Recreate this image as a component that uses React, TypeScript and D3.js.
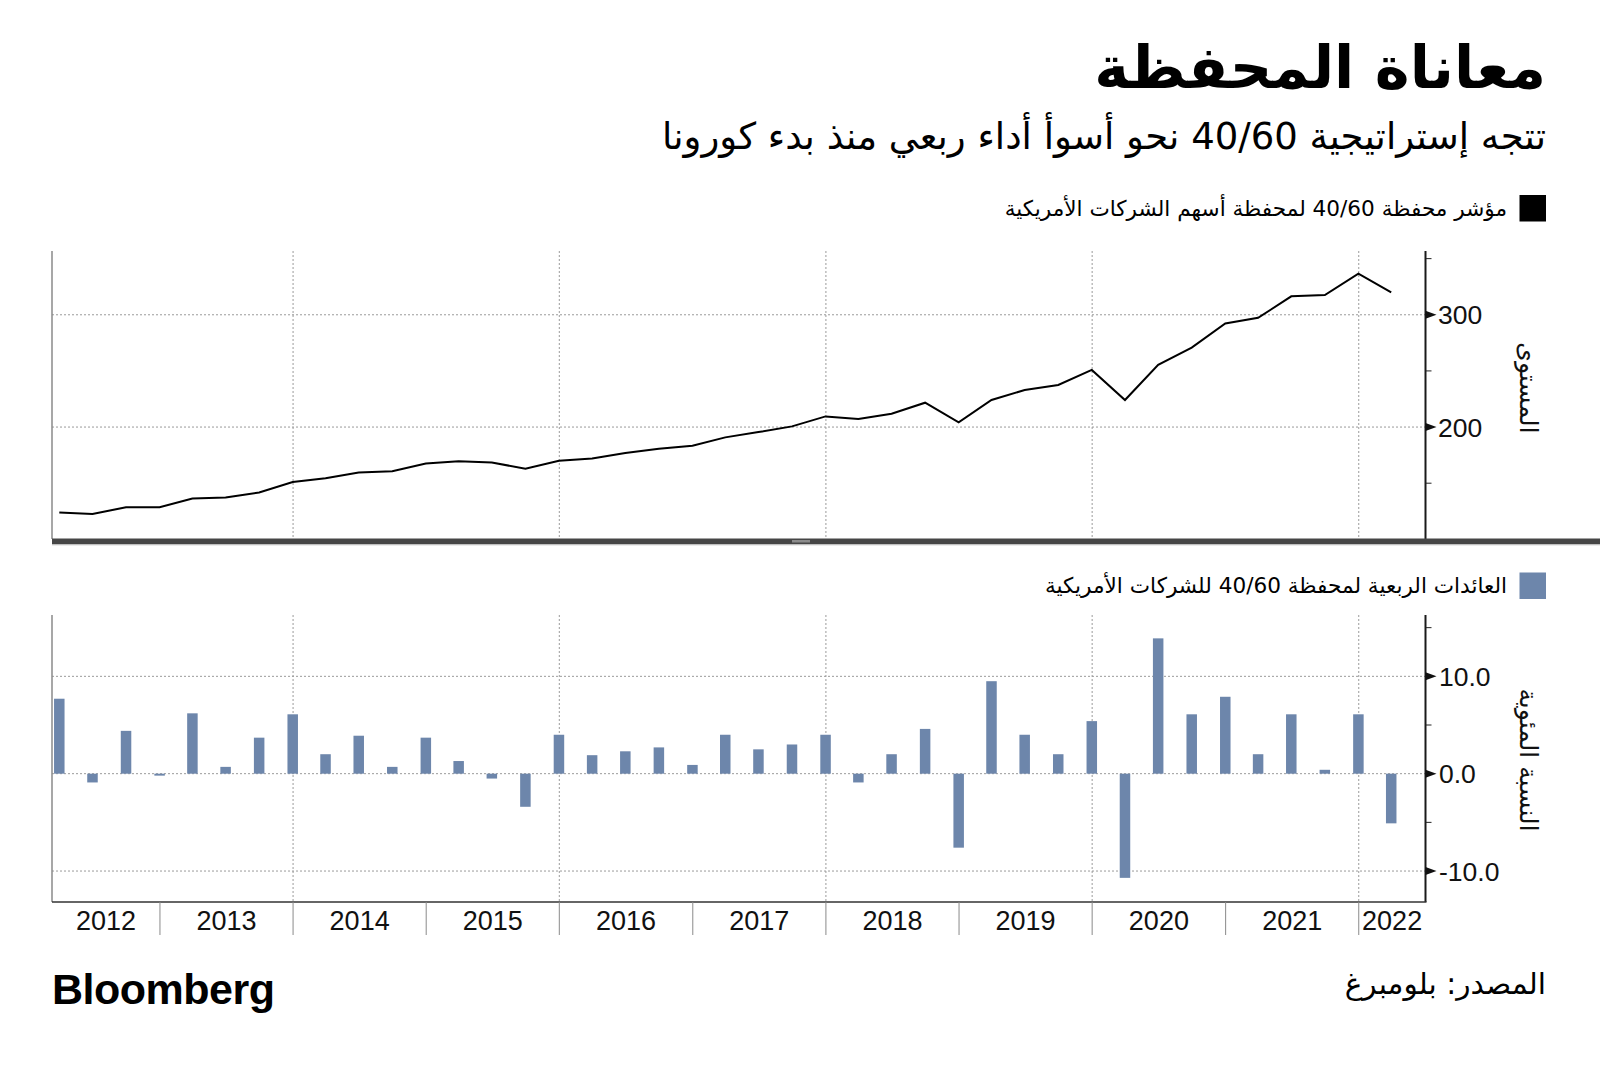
import React from "react";
import * as d3 from "d3";

const title = "معاناة المحفظة";
const subtitle = "تتجه إستراتيجية 40/60 نحو أسوأ أداء ربعي منذ بدء كورونا";
const legendLine = "مؤشر محفظة 40/60 لمحفظة أسهم الشركات الأمريكية";
const legendBars = "العائدات الربعية لمحفظة 40/60 للشركات الأمريكية";
const yTitleTop = "المستوى";
const yTitleBottom = "النسبة المئوية";
const sourceText = "المصدر: بلومبرغ";

const quarterEnds = [
  "2012-03-31", "2012-06-30", "2012-09-30", "2012-12-31",
  "2013-03-31", "2013-06-30", "2013-09-30", "2013-12-31",
  "2014-03-31", "2014-06-30", "2014-09-30", "2014-12-31",
  "2015-03-31", "2015-06-30", "2015-09-30", "2015-12-31",
  "2016-03-31", "2016-06-30", "2016-09-30", "2016-12-31",
  "2017-03-31", "2017-06-30", "2017-09-30", "2017-12-31",
  "2018-03-31", "2018-06-30", "2018-09-30", "2018-12-31",
  "2019-03-31", "2019-06-30", "2019-09-30", "2019-12-31",
  "2020-03-31", "2020-06-30", "2020-09-30", "2020-12-31",
  "2021-03-31", "2021-06-30", "2021-09-30", "2021-12-31",
  "2022-03-31",
];

const indexLevel = [
  123.8, 122.6, 128.6, 128.6, 136.3, 137.2, 141.7, 151.1,
  154.5, 159.5, 160.7, 167.6, 169.6, 168.5, 162.8, 170.0,
  172.0, 176.8, 180.7, 183.3, 190.8, 195.5, 200.6, 209.5,
  207.1, 211.9, 221.7, 204.2, 224.1, 233.0, 237.5, 250.9,
  224.1, 255.4, 270.8, 292.3, 297.3, 316.4, 317.6, 336.6,
  319.9,
];

const quarterlyReturn = [
  7.7, -0.9, 4.4, -0.2, 6.2, 0.7, 3.7, 6.1,
  2.0, 3.9, 0.7, 3.7, 1.3, -0.5, -3.4, 4.0,
  1.9, 2.3, 2.7, 0.9, 4.0, 2.5, 3.0, 4.0,
  -0.9, 2.0, 4.6, -7.6, 9.5, 4.0, 2.0, 5.4,
  -10.7, 13.9, 6.1, 7.9, 2.0, 6.1, 0.4, 6.1,
  -5.1,
];

const yearLabels = ["2012", "2013", "2014", "2015", "2016", "2017", "2018", "2019", "2020", "2021", "2022"];
const topMajorTicks = [200, 300];
const topMinorTicks = [150, 250, 350];
const bottomMajorTicks = [-10, 0, 10];
const bottomMinorTicks = [-5, 5, 15];
const gridYears = ["2014", "2016", "2018", "2020", "2022"];

const ARABIC = "'DejaVu Sans', 'Noto Sans', sans-serif";
const NUM = "'Liberation Sans', Arial, sans-serif";
const BAR_COLOR = "#6d86ab";

export default function App() {
  const W = 1600;
  const H = 1069;
  const parse = d3.timeParse("%Y-%m-%d");
  const dates = quarterEnds.map((d) => parse(d) as Date);

  const left = 52;
  const right = 1425.5;
  const x = d3
    .scaleTime()
    .domain([new Date(2012, 2, 11), new Date(2022, 6, 3)])
    .range([left, right]);

  const topTop = 251;
  const topBottom = 539;
  const yTop = d3.scaleLinear().domain([100.3, 356.8]).range([topBottom, topTop]);

  const botTop = 615;
  const botBottom = 902;
  const yBot = d3.scaleLinear().domain([-13.18, 16.3]).range([botBottom, botTop]);

  const line = d3
    .line<number>()
    .x((_, i) => x(dates[i]))
    .y((d) => yTop(d));

  const barW = 10.5;
  const [d0, d1] = x.domain();

  const yearSpans = yearLabels.map((y) => {
    const yr = +y;
    const s = new Date(yr, 0, 1) < d0 ? d0 : new Date(yr, 0, 1);
    const e = new Date(yr + 1, 0, 1) > d1 ? d1 : new Date(yr + 1, 0, 1);
    return { label: y, cx: (x(s) + x(e)) / 2, start: x(new Date(yr, 0, 1)) };
  });

  const gridXs = gridYears.map((y) => x(new Date(+y, 0, 1)));

  return (
    <svg
      width={W}
      height={H}
      viewBox={`0 0 ${W} ${H}`}
      style={{ position: "absolute", left: 0, top: 0, background: "#fff" }}
    >
      <rect x={0} y={0} width={W} height={H} fill="#fff" />

      {/* Title */}
      <text x={1546} y={88} direction="rtl" textAnchor="start" fontFamily={ARABIC} fontWeight={700} fontSize={59} fill="#000">
        {title}
      </text>
      <text x={1546} y={149} direction="rtl" textAnchor="start" fontFamily={ARABIC} fontSize={37} fill="#000">
        {subtitle}
      </text>

      {/* Legend 1 */}
      <rect x={1519.5} y={195} width={26.5} height={26.5} fill="#000" />
      <text x={1507} y={216} direction="rtl" textAnchor="start" fontFamily={ARABIC} fontSize={21.6} fill="#000">
        {legendLine}
      </text>

      {/* Top chart */}
      <g>
        {topMajorTicks.map((t) => (
          <line key={"tg" + t} x1={left} x2={right} y1={yTop(t)} y2={yTop(t)} stroke="#9a9a9a" strokeDasharray="2,2" strokeWidth={1} />
        ))}
        {gridXs.map((gx, i) => (
          <line key={"tv" + i} x1={gx} x2={gx} y1={topTop} y2={topBottom} stroke="#9a9a9a" strokeDasharray="2,2" strokeWidth={1} />
        ))}
        <line x1={left} x2={left} y1={topTop} y2={topBottom} stroke="#8a8a8a" strokeWidth={1.5} />
        <line x1={right} x2={right} y1={topTop} y2={topBottom} stroke="#1a1a1a" strokeWidth={2} />
        {topMajorTicks.map((t) => (
          <g key={"tm" + t}>
            <path d={`M${right},${yTop(t) - 4} L${right + 11},${yTop(t)} L${right},${yTop(t) + 4} Z`} fill="#111" />
            <text x={1438} y={yTop(t)} dy="0.36em" fontFamily={NUM} fontSize={26.5} fill="#111">
              {t}
            </text>
          </g>
        ))}
        {topMinorTicks.map((t) => (
          <line key={"tn" + t} x1={right} x2={right + 6} y1={yTop(t)} y2={yTop(t)} stroke="#222" strokeWidth={1} />
        ))}
        <path d={line(indexLevel) || ""} fill="none" stroke="#000" strokeWidth={2} strokeLinejoin="miter" />
        <text
          transform={`translate(1520, 388) rotate(90)`}
          textAnchor="middle"
          direction="rtl"
          fontFamily={ARABIC}
          fontSize={25}
          fill="#111"
        >
          {yTitleTop}
        </text>
      </g>

      {/* Divider bar */}
      <rect x={left} y={538.5} width={W - left} height={5.8} fill="#464646" />
      <rect x={left} y={544.3} width={W - left} height={1} fill="#bdbdbd" />
      <rect x={792} y={540} width={18} height={2.5} fill="#8c8c8c" />

      {/* Legend 2 */}
      <rect x={1519.5} y={572.5} width={26.5} height={26.5} fill={BAR_COLOR} />
      <text x={1507} y={593} direction="rtl" textAnchor="start" fontFamily={ARABIC} fontSize={21.6} fill="#000">
        {legendBars}
      </text>

      {/* Bottom chart */}
      <g>
        {bottomMajorTicks.map((t) => (
          <line key={"bg" + t} x1={left} x2={right} y1={yBot(t)} y2={yBot(t)} stroke="#9a9a9a" strokeDasharray="2,2" strokeWidth={1} />
        ))}
        {gridXs.map((gx, i) => (
          <line key={"bv" + i} x1={gx} x2={gx} y1={botTop} y2={botBottom} stroke="#9a9a9a" strokeDasharray="2,2" strokeWidth={1} />
        ))}
        {quarterlyReturn.map((v, i) => {
          const cx = x(dates[i]);
          const y0 = yBot(0);
          const yv = yBot(v);
          return (
            <rect
              key={"b" + i}
              x={cx - barW / 2}
              y={Math.min(y0, yv)}
              width={barW}
              height={Math.max(1.5, Math.abs(yv - y0))}
              fill={BAR_COLOR}
            />
          );
        })}
        <line x1={left} x2={left} y1={botTop} y2={botBottom} stroke="#8a8a8a" strokeWidth={1.5} />
        <line x1={right} x2={right} y1={botTop} y2={botBottom} stroke="#1a1a1a" strokeWidth={2} />
        <line x1={left} x2={right + 1} y1={botBottom} y2={botBottom} stroke="#333" strokeWidth={1.5} />
        {bottomMajorTicks.map((t) => (
          <g key={"bm" + t}>
            <path d={`M${right},${yBot(t) - 4} L${right + 11},${yBot(t)} L${right},${yBot(t) + 4} Z`} fill="#111" />
            <text x={1439} y={yBot(t)} dy="0.36em" fontFamily={NUM} fontSize={26.5} fill="#111">
              {d3.format(".1f")(t).replace("−", "-")}
            </text>
          </g>
        ))}
        {bottomMinorTicks.map((t) => (
          <line key={"bn" + t} x1={right} x2={right + 6} y1={yBot(t)} y2={yBot(t)} stroke="#222" strokeWidth={1} />
        ))}
        <text
          transform={`translate(1520, 760) rotate(90)`}
          textAnchor="middle"
          direction="rtl"
          fontFamily={ARABIC}
          fontSize={25}
          fill="#111"
        >
          {yTitleBottom}
        </text>

        {/* x axis */}
        {yearSpans
          .filter((s) => s.start > left && s.start < right)
          .map((s) => (
            <line key={"xt" + s.label} x1={s.start} x2={s.start} y1={botBottom} y2={935} stroke="#8a8a8a" strokeWidth={1} />
          ))}
        {yearSpans.map((s) => (
          <text key={"xl" + s.label} x={s.cx} y={930} textAnchor="middle" fontFamily={NUM} fontSize={27} fill="#111">
            {s.label}
          </text>
        ))}
      </g>

      {/* Footer */}
      <text x={52} y={1004} fontFamily={NUM} fontWeight={700} fontSize={43} letterSpacing={-0.5} fill="#000">
        Bloomberg
      </text>
      <text x={1546} y={994} direction="rtl" textAnchor="start" fontFamily={ARABIC} fontSize={29.6} fill="#000">
        {sourceText}
      </text>
    </svg>
  );
}
